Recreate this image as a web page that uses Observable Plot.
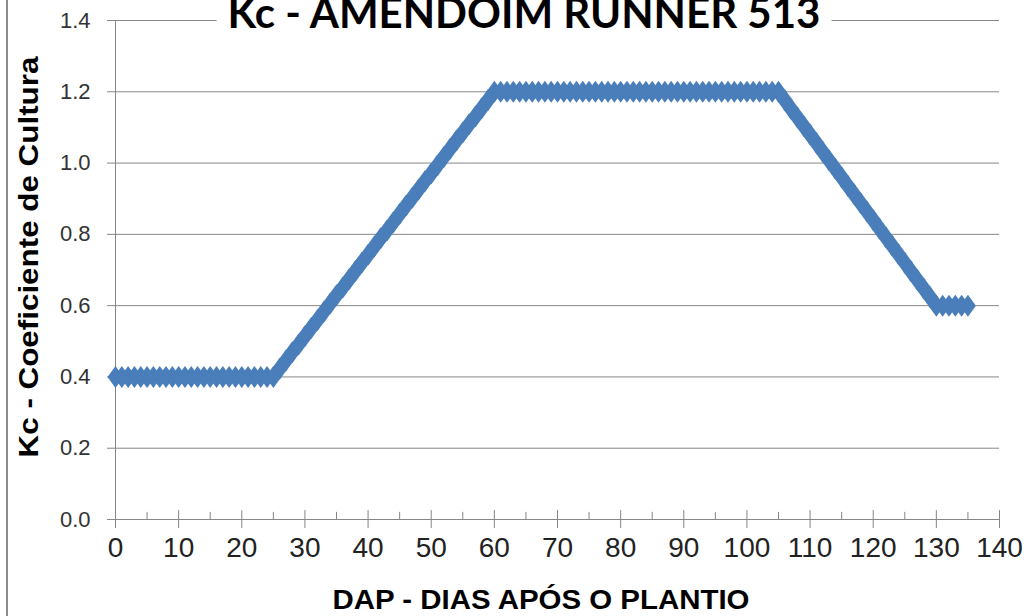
<!DOCTYPE html>
<html>
<head>
<meta charset="utf-8">
<script src="https://cdn.jsdelivr.net/npm/d3@7"></script>
<script src="https://cdn.jsdelivr.net/npm/@observablehq/plot@0.6"></script>
<style>
  html, body { margin: 0; padding: 0; background: #fff; overflow: hidden; }
  #wrap { position: relative; width: 1031px; height: 616px; overflow: hidden; background: #fff; }
  #border { position: absolute; left: 6px; top: 0; width: 2px; height: 616px; background: #8c8c8c; }
  #title { position: absolute; left: 524px; top: -8px; transform: translateX(-50%); background: #fff; padding: 0 11px;
           font-family: Lato, "Open Sans", sans-serif; font-weight: 700; font-size: 42px; line-height: 40px; color: #000; white-space: nowrap; }
  #ytitle { position: absolute; left: 29px; top: 257px; transform: translate(-50%, -50%) rotate(-90deg) scaleX(1.12);
            font-family: "Liberation Sans", Arial, sans-serif; font-weight: 700; font-size: 28px; color: #000; white-space: nowrap; }
  #xtitle { position: absolute; left: 541px; top: 585px; transform: translateX(-50%) scaleX(1.09);
            font-family: "Liberation Sans", Arial, sans-serif; font-weight: 700; font-size: 27px; line-height: 30px; color: #000; white-space: nowrap; }
</style>
</head>
<body>
<div id="wrap">
  <div id="chart"></div>
  <div id="border"></div>
  <div id="title"></div>
  <div id="ytitle"></div>
  <div id="xtitle"></div>
</div>
<script>
const titleText = "Kc - AMENDOIM RUNNER 513";
const xTitle = "DAP - DIAS APÓS O PLANTIO";
const yTitle = "Kc - Coeficiente de Cultura";

const days = [
  0,1,2,3,4,5,6,7,8,9,10,11,12,13,14,15,16,17,18,19,
  20,21,22,23,24,25,26,27,28,29,30,31,32,33,34,35,36,37,38,39,
  40,41,42,43,44,45,46,47,48,49,50,51,52,53,54,55,56,57,58,59,
  60,61,62,63,64,65,66,67,68,69,70,71,72,73,74,75,76,77,78,79,
  80,81,82,83,84,85,86,87,88,89,90,91,92,93,94,95,96,97,98,99,
  100,101,102,103,104,105,106,107,108,109,110,111,112,113,114,115,116,117,118,119,
  120,121,122,123,124,125,126,127,128,129,130,131,132,133,134,135
];
const kc = [
  0.4,0.4,0.4,0.4,0.4,0.4,0.4,0.4,0.4,0.4,0.4,0.4,0.4,0.4,0.4,0.4,0.4,0.4,0.4,0.4,
  0.4,0.4,0.4,0.4,0.4,0.4,0.423,0.446,0.469,0.491,0.514,0.537,0.560,0.583,0.606,0.629,0.651,0.674,0.697,0.720,
  0.743,0.766,0.789,0.811,0.834,0.857,0.880,0.903,0.926,0.949,0.971,0.994,1.017,1.040,1.063,1.086,1.109,1.131,1.154,1.177,
  1.2,1.2,1.2,1.2,1.2,1.2,1.2,1.2,1.2,1.2,1.2,1.2,1.2,1.2,1.2,1.2,1.2,1.2,1.2,1.2,
  1.2,1.2,1.2,1.2,1.2,1.2,1.2,1.2,1.2,1.2,1.2,1.2,1.2,1.2,1.2,1.2,1.2,1.2,1.2,1.2,
  1.2,1.2,1.2,1.2,1.2,1.2,1.176,1.152,1.128,1.104,1.080,1.056,1.032,1.008,0.984,0.960,0.936,0.912,0.888,0.864,
  0.840,0.816,0.792,0.768,0.744,0.720,0.696,0.672,0.648,0.624,0.600,0.6,0.6,0.6,0.6,0.6
];
const xMajor = [0,10,20,30,40,50,60,70,80,90,100,110,120,130,140];
const xMinor = [5,15,25,35,45,55,65,75,85,95,105,115,125,135];
const yTicks = [0,0.2,0.4,0.6,0.8,1.0,1.2,1.4];

const data = days.map((d, i) => ({day: d, kc: kc[i]}));

const gridColor = "#868686";
const markerColor = "#4a7ebb";
const rhombus = {
  draw(ctx) {
    ctx.moveTo(0, -11);
    ctx.lineTo(8, 0);
    ctx.lineTo(0, 11);
    ctx.lineTo(-8, 0);
    ctx.closePath();
  }
};

const chart = Plot.plot({
  width: 1031,
  height: 616,
  marginLeft: 115,
  marginRight: 32,
  marginTop: 20,
  marginBottom: 97,
  style: {background: "transparent", fontFamily: "'Liberation Sans', Arial, sans-serif", color: "#333"},
  x: {domain: [0, 140]},
  y: {domain: [0, 1.4]},
  marks: [
    Plot.gridY(yTicks.filter(d => d > 0), {stroke: gridColor, strokeOpacity: 1, strokeWidth: 1}),
    Plot.axisY(yTicks, {tickSize: 8, tickPadding: 17, fontSize: 22, stroke: gridColor, fill: "#333",
                        tickFormat: d => d.toFixed(1), label: null}),
    Plot.ruleX([0], {stroke: gridColor, strokeWidth: 1}),
    Plot.ruleY([0], {stroke: gridColor, strokeWidth: 1}),
    Plot.axisX(xMajor, {tickSize: 9, tickPadding: 9, fontSize: 28, stroke: gridColor, fill: "#222", label: null}),
    Plot.ruleX(xMajor, {y1: 0, y2: 0.025, stroke: gridColor}),
    Plot.ruleX(xMinor, {y1: 0, y2: 0.02, stroke: gridColor}),
    Plot.dot(data, {x: "day", y: "kc", symbol: rhombus, r: 6, fill: markerColor, stroke: null})
  ]
});
document.getElementById("chart").appendChild(chart);
document.getElementById("title").textContent = titleText;
document.getElementById("xtitle").textContent = xTitle;
document.getElementById("ytitle").textContent = yTitle;
</script>
</body>
</html>
